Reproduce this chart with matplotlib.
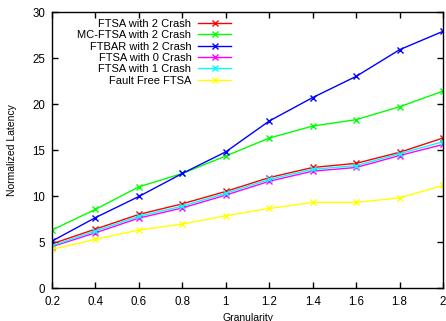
import matplotlib
matplotlib.use("Agg")
import matplotlib.pyplot as plt

plt.rcParams['font.family'] = ['Liberation Sans', 'DejaVu Sans']

granularity = [0.2, 0.4, 0.6, 0.8, 1.0, 1.2, 1.4, 1.6, 1.8, 2.0]
ftsa_2crash = [4.8, 6.4, 8.0, 9.15, 10.5, 12.0, 13.1, 13.55, 14.75, 16.3]
mcftsa_2crash = [6.3, 8.55, 11.0, 12.45, 14.35, 16.3, 17.6, 18.3, 19.7, 21.4]
ftbar_2crash = [5.1, 7.65, 9.95, 12.45, 14.8, 18.15, 20.7, 23.0, 25.9, 27.9]
ftsa_0crash = [4.5, 6.0, 7.6, 8.7, 10.1, 11.6, 12.7, 13.1, 14.4, 15.6]
ftsa_1crash = [4.6, 6.2, 7.8, 8.9, 10.3, 11.8, 12.9, 13.3, 14.6, 15.9]
fault_free = [4.2, 5.3, 6.3, 6.95, 7.85, 8.65, 9.3, 9.3, 9.8, 11.15]

series = [
    ("FTSA with 2 Crash", ftsa_2crash, "#ff0000"),
    ("MC-FTSA with 2 Crash", mcftsa_2crash, "#00ff00"),
    ("FTBAR with 2 Crash", ftbar_2crash, "#0000ff"),
    ("FTSA with 0 Crash", ftsa_0crash, "#ff00ff"),
    ("FTSA with 1 Crash", ftsa_1crash, "#00ffff"),
    ("Fault Free FTSA", fault_free, "#ffff00"),
]

xticks = [0.2, 0.4, 0.6, 0.8, 1.0, 1.2, 1.4, 1.6, 1.8, 2.0]
xticklabels = ["0.2", "0.4", "0.6", "0.8", "1", "1.2", "1.4", "1.6", "1.8", "2"]
yticks = [0, 5, 10, 15, 20, 25, 30]

fig = plt.figure(figsize=(4.46, 3.21), dpi=100)
ax = fig.add_axes([0.1166, 0.1028, 0.8767, 0.8598])

for label, vals, color in series:
    ax.plot(granularity, vals, color=color, lw=1.0, marker='x', ms=5, mew=1.0, label=label)

ax.set_xlim(0.2, 2.0)
ax.set_ylim(0, 30)
ax.set_xticks(xticks)
ax.set_xticklabels(xticklabels)
ax.set_yticks(yticks)
ax.tick_params(direction='in', length=4, width=1, top=True, right=True, labelsize=8.3)
ax.tick_params(axis='x', pad=6)
ax.tick_params(axis='y', pad=5)
for s in ax.spines.values():
    s.set_linewidth(1.0)
ax.set_xlabel("Granularity", fontsize=7.5, labelpad=3)
ax.set_ylabel("Normalized Latency", fontsize=7.5, labelpad=11)

leg = ax.legend(loc='upper left', bbox_to_anchor=(0.045, 1.003), markerfirst=False,
                frameon=False, fontsize=8, handlelength=3.0, handletextpad=0.6,
                labelspacing=0.12, borderpad=0.2)
try:
    for col in leg._legend_handle_box.get_children():
        col.align = 'right'
except Exception:
    pass

fig.savefig("out.png", dpi=100)
